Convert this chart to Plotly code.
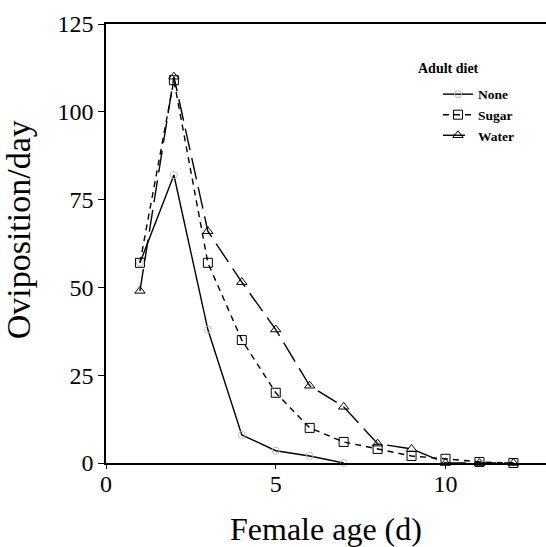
import plotly.graph_objects as go

# Female age (days)
age = [1, 2, 3, 4, 5, 6, 7, 8, 9, 10, 11, 12]

# Oviposition per day for each adult diet
none_age = [1, 2, 3, 4, 5, 6, 7]
none_vals = [57, 82, 38, 8, 3.5, 2, 0]
sugar_vals = [57, 109, 57, 35, 20, 10, 6, 4, 2, 1.2, 0.3, 0]
water_vals = [49, 110, 66, 51.5, 38, 22, 16, 5.5, 4, 0, 0, 0]

x_ticks = [0, 5, 10]
y_ticks = [0, 25, 50, 75, 100, 125]

SERIF = "Liberation Serif"

fig = go.Figure()

fig.add_trace(go.Scatter(
    x=none_age, y=none_vals, name="None", mode="lines+markers",
    line=dict(color="black", width=1.4, dash="solid"),
    marker=dict(symbol="circle-open", size=7, color="#bdbdbd",
                line=dict(color="#bdbdbd", width=1)),
    cliponaxis=False,
))
fig.add_trace(go.Scatter(
    x=age, y=sugar_vals, name="Sugar", mode="lines+markers",
    line=dict(color="black", width=1.4, dash="6px,5px"),
    marker=dict(symbol="square-open", size=9, color="black",
                line=dict(color="black", width=1)),
    cliponaxis=False,
))
fig.add_trace(go.Scatter(
    x=age, y=water_vals, name="Water", mode="lines+markers",
    line=dict(color="black", width=1.4, dash="22px,8px"),
    marker=dict(symbol="triangle-up-open", size=9, color="black",
                line=dict(color="black", width=1)),
    cliponaxis=False,
))

fig.update_layout(
    width=546, height=547,
    margin=dict(l=106, r=0, t=24, b=84),
    paper_bgcolor="white", plot_bgcolor="white",
    font=dict(family=SERIF, color="black"),
    showlegend=True,
    legend=dict(
        x=0.7545, xanchor="left", y=0.875, yanchor="top",
        bgcolor="rgba(0,0,0,0)", borderwidth=0,
        font=dict(family=SERIF, size=13.5, color="black", weight="bold"),
        tracegroupgap=0, itemwidth=30,
    ),
    xaxis=dict(
        range=[0, 12.96], tickvals=x_ticks, ticks="outside", ticklen=4,
        tickwidth=1.2, tickcolor="black", ticklabelstandoff=-6,
        showline=True, linecolor="black", linewidth=1.5, mirror=True,
        showgrid=False, zeroline=False,
        tickfont=dict(family=SERIF, size=24, color="black"),
    ),
    yaxis=dict(
        range=[0, 125], tickvals=y_ticks, ticks="outside", ticklen=6,
        tickwidth=1.2, tickcolor="black",
        showline=True, linecolor="black", linewidth=1.5,
        showgrid=False, zeroline=False,
        tickfont=dict(family=SERIF, size=24, color="black"),
    ),
    annotations=[
        dict(text="Female age (d)", xref="paper", yref="paper",
             x=0.5, y=-0.151, xanchor="center", yanchor="middle",
             showarrow=False, font=dict(family=SERIF, size=32)),
        dict(text="Oviposition/day", xref="paper", yref="paper",
             x=-0.2, y=0.53, xanchor="center", yanchor="middle",
             textangle=-90, showarrow=False, font=dict(family=SERIF, size=34)),
        dict(text="Adult diet", xref="paper", yref="paper",
             x=0.7045, y=0.8975, xanchor="left", yanchor="middle",
             showarrow=False,
             font=dict(family=SERIF, size=14, weight="bold")),
    ],
)

fig.write_html("out.html")
